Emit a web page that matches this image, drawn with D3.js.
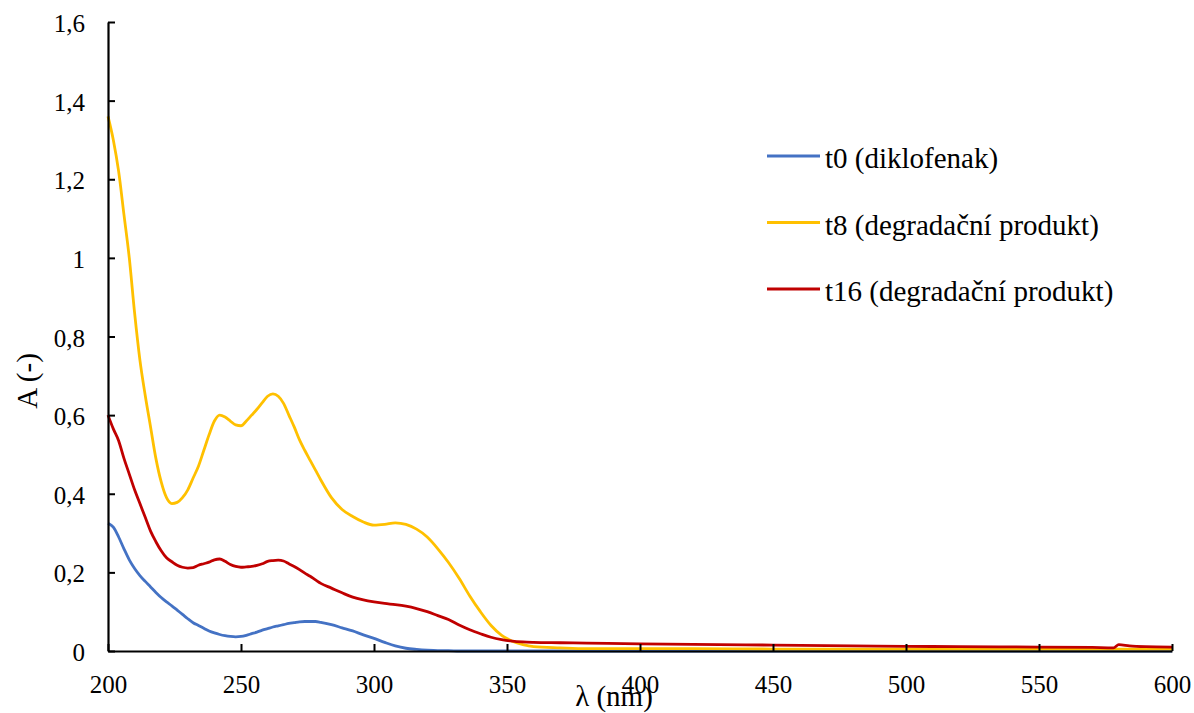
<!DOCTYPE html>
<html>
<head>
<meta charset="utf-8">
<script src="https://cdn.jsdelivr.net/npm/d3@7"></script>
<style>
	body { margin: 0; background: #fff; }
	svg text { font-family: "Liberation Serif", "Times New Roman", Tinos, serif; fill: #000; }
</style>
</head>
<body>
<div id="chart"></div>
<script>

///////////////////////////////////////////////////////////////////////////
//////////////////////////////// Data /////////////////////////////////////
///////////////////////////////////////////////////////////////////////////

var wavelengths = [200,202,204,206,208,210,212,214,216,218,220,222,224,226,228,230,232,234,236,238,
	240,242,244,246,248,250,252,254,256,258,260,262,264,266,268,270,272,274,276,278,280,284,288,292,296,
	300,304,308,312,316,320,324,328,332,336,340,344,348,352,356,360,370,380,400,420,450,480,500,520,550,
	570,578,580,584,590,600];

var t0 = [0.325,0.315,0.29,0.26,0.232,0.21,0.192,0.177,0.163,0.149,0.136,0.125,0.115,0.104,0.093,0.082,0.072,0.065,0.058,0.051,
	0.046,0.042,0.039,0.037,0.036,0.037,0.04,0.044,0.048,0.053,0.057,0.061,0.064,0.067,0.07,0.072,0.074,0.075,0.075,0.075,0.073,0.067,0.059,0.051,0.041,
	0.032,0.022,0.013,0.007,0.004,0.002,0.001,0.001,0,0,0,0,0,0,0,0,0,0,0,0,0,0,0,0,0,
	0,0,0,0,0,0];

var t8 = [1.36,1.30,1.22,1.11,1.00,0.86,0.74,0.65,0.57,0.49,0.43,0.39,0.375,0.378,0.39,0.41,0.44,0.47,0.51,0.55,
	0.585,0.60,0.595,0.585,0.575,0.573,0.585,0.60,0.615,0.632,0.648,0.654,0.648,0.63,0.60,0.57,0.537,0.51,0.485,0.46,0.435,0.39,0.36,0.342,0.328,
	0.32,0.322,0.326,0.322,0.31,0.29,0.26,0.225,0.185,0.14,0.10,0.065,0.04,0.025,0.016,0.011,0.008,0.006,0.006,0.006,0.005,0.005,0.005,0.005,0.005,
	0.005,0.005,0.005,0.005,0.005,0.005];

var t16 = [0.60,0.565,0.535,0.49,0.45,0.41,0.375,0.34,0.305,0.278,0.255,0.237,0.227,0.218,0.213,0.211,0.212,0.218,0.222,0.226,
	0.232,0.234,0.228,0.22,0.215,0.213,0.214,0.215,0.218,0.222,0.228,0.23,0.231,0.229,0.222,0.215,0.207,0.198,0.19,0.181,0.172,0.16,0.148,0.137,0.13,
	0.125,0.121,0.118,0.114,0.108,0.10,0.09,0.08,0.066,0.054,0.044,0.035,0.029,0.025,0.023,0.022,0.021,0.02,0.018,0.017,0.015,0.013,0.012,0.011,0.01,
	0.009,0.008,0.016,0.013,0.011,0.01];

var seriesNames = ["t0 (diklofenak)", "t8 (degradační produkt)", "t16 (degradační produkt)"];
var seriesColors = ["#4472C4", "#FFC000", "#C00000"];
var seriesValues = [t0, t8, t16];

var xTicks = [200,250,300,350,400,450,500,550,600];
var yTicks = [0,0.2,0.4,0.6,0.8,1,1.2,1.4,1.6];

///////////////////////////////////////////////////////////////////////////
//////////////////// Set up and initiate svg containers ///////////////////
///////////////////////////////////////////////////////////////////////////

var totalWidth = 1194,
	totalHeight = 713;
var margin = { top: 22, right: 22, bottom: 62, left: 108 };
var width = totalWidth - margin.left - margin.right;
var height = totalHeight - margin.top - margin.bottom;
var serif = "'Liberation Serif', 'Times New Roman', Tinos, serif";

var svgRoot = d3.select("#chart").append("svg")
	.attr("width", totalWidth)
	.attr("height", totalHeight);

var svg = svgRoot.append("g")
	.attr("transform", "translate(" + margin.left + "," + margin.top + ")");

var x = d3.scaleLinear().domain([200, 600]).range([0, width]);
var y = d3.scaleLinear().domain([0, 1.6]).range([height, 0]);

///////////////////////////////////////////////////////////////////////////
/////////////////////////////// Lines /////////////////////////////////////
///////////////////////////////////////////////////////////////////////////

var line = d3.line()
	.x(function(d) { return x(d[0]); })
	.y(function(d) { return y(d[1]); })
	.curve(d3.curveMonotoneX);

seriesValues.forEach(function(vals, i) {
	var pts = wavelengths.map(function(w, j) { return [w, vals[j]]; });
	svg.append("path")
		.datum(pts)
		.attr("d", line)
		.style("fill", "none")
		.style("stroke", seriesColors[i])
		.style("stroke-width", 2.8)
		.style("stroke-linejoin", "round");
});

///////////////////////////////////////////////////////////////////////////
/////////////////////////////// Axes //////////////////////////////////////
///////////////////////////////////////////////////////////////////////////

var fmt = function(d) { return String(d).replace(".", ","); };

var xAxis = svg.append("g")
	.attr("transform", "translate(0," + height + ")")
	.call(d3.axisBottom(x).tickValues(xTicks).tickSizeInner(-7).tickSizeOuter(0).tickPadding(24));

var yAxis = svg.append("g")
	.call(d3.axisLeft(y).tickValues(yTicks).tickFormat(fmt).tickSizeInner(-7).tickSizeOuter(0).tickPadding(23));

yAxis.selectAll(".tick text").attr("dy", "0.38em");

[xAxis, yAxis].forEach(function(a) {
	a.attr("font-family", serif).attr("font-size", 25);
	a.select(".domain").style("stroke", "#000").style("stroke-width", 2.2);
	a.selectAll(".tick line").style("stroke", "#000").style("stroke-width", 2);
	a.selectAll(".tick text")
		.style("font-family", serif)
		.style("font-size", "25px")
		.style("fill", "#000");
});

//Axis titles
svgRoot.append("text")
	.attr("x", 614)
	.attr("y", 706)
	.attr("text-anchor", "middle")
	.style("font-family", serif)
	.style("font-size", "29px")
	.text("λ (nm)");

svgRoot.append("text")
	.attr("transform", "translate(37,381) rotate(-90)")
	.attr("text-anchor", "middle")
	.style("font-family", serif)
	.style("font-size", "29px")
	.text("A (-)");

///////////////////////////////////////////////////////////////////////////
////////////////////////////// Legend /////////////////////////////////////
///////////////////////////////////////////////////////////////////////////

var legend = svgRoot.append("g").attr("transform", "translate(767,156)");

var legendItem = legend.selectAll(".legend-item")
	.data(seriesNames)
	.enter().append("g")
	.attr("class", "legend-item")
	.attr("transform", function(d, i) { return "translate(0," + (i * 66.5) + ")"; });

legendItem.append("line")
	.attr("x1", 0).attr("x2", 53)
	.attr("y1", 0).attr("y2", 0)
	.style("stroke", function(d, i) { return seriesColors[i]; })
	.style("stroke-width", 2.8);

legendItem.append("text")
	.attr("x", 58)
	.attr("y", 12)
	.style("font-family", serif)
	.style("font-size", "29px")
	.text(function(d) { return d; });

</script>
</body>
</html>
